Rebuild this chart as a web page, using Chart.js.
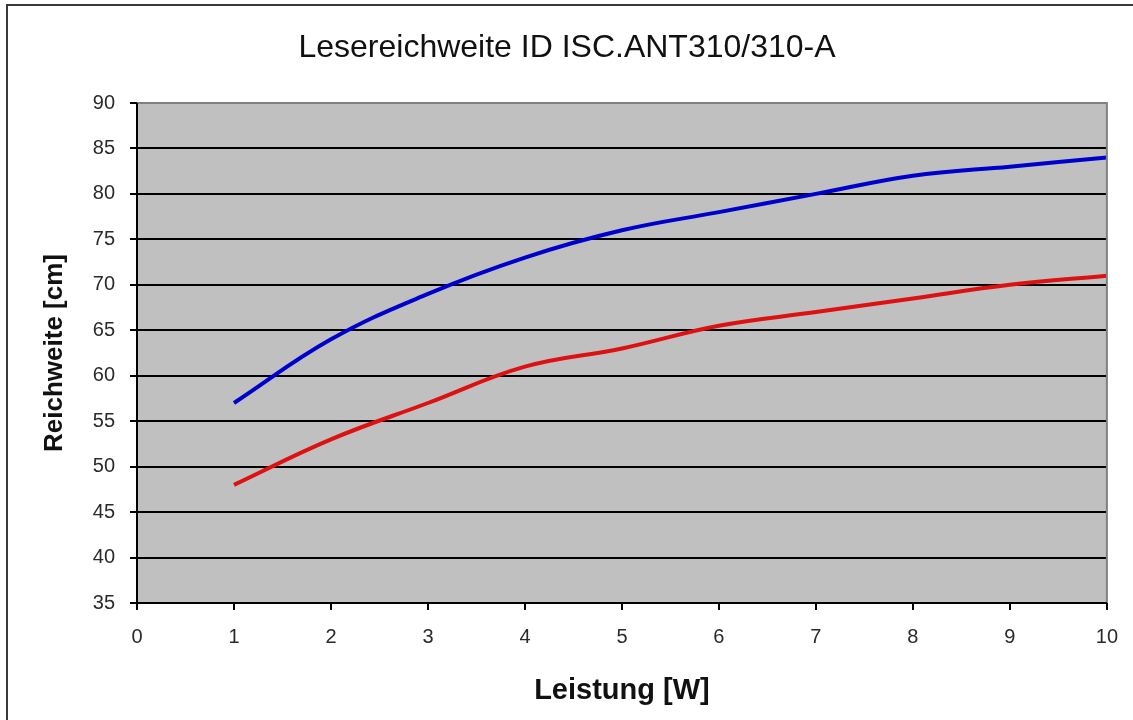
<!DOCTYPE html>
<html>
<head>
<meta charset="utf-8">
<script src="https://cdn.jsdelivr.net/npm/chart.js@4.4.1/dist/chart.umd.min.js"></script>
<style>
  html, body { margin: 0; padding: 0; background: #ffffff; }
  #wrap { width: 1133px; height: 720px; position: relative; }
</style>
</head>
<body>
<div id="wrap"><canvas id="c" width="1133" height="720"></canvas></div>
<script>
// Leistung in W
const leistung = [1, 2, 3, 4, 5, 6, 7, 8, 9, 10];
// Reichweite in cm
const reichweiteBlau = [57, 64, 69, 73, 76, 78, 80, 82, 83, 84];
const reichweiteRot  = [48, 53, 57, 61, 63, 65.5, 67, 68.5, 70, 71];

const titel = 'Lesereichweite ID ISC.ANT310/310-A';
const xTitel = 'Leistung [W]';
const yTitel = 'Reichweite [cm]';

const toPoints = (xs, ys) => xs.map((x, i) => ({ x: x, y: ys[i] }));

// grey plot background, frame lines and the outer chart border
const frame = {
  id: 'frame',
  beforeDraw(chart) {
    const { ctx, chartArea: a } = chart;
    ctx.save();
    ctx.fillStyle = '#ffffff';
    ctx.fillRect(0, 0, chart.width, chart.height);
    ctx.strokeStyle = '#3a3a3a';
    ctx.lineWidth = 2;
    ctx.strokeRect(7, 5, chart.width + 20, chart.height + 20);
    ctx.fillStyle = '#c0c0c0';
    ctx.fillRect(a.left, a.top, a.right - a.left, a.bottom - a.top);
    ctx.restore();
  },
  afterDatasetsDraw(chart) {
    const { ctx, chartArea: a } = chart;
    ctx.save();
    ctx.strokeStyle = '#808080';
    ctx.lineWidth = 2;
    ctx.beginPath();
    ctx.moveTo(a.left, a.top);
    ctx.lineTo(a.right, a.top);
    ctx.lineTo(a.right, a.bottom);
    ctx.stroke();
    ctx.strokeStyle = '#000000';
    ctx.beginPath();
    ctx.moveTo(a.left, a.top);
    ctx.lineTo(a.left, a.bottom);
    ctx.lineTo(a.right, a.bottom);
    ctx.stroke();
    ctx.restore();
  }
};

const fam = 'Liberation Sans, Arial, sans-serif';
const tickFont = { family: fam, size: 20 };

new Chart(document.getElementById('c'), {
  type: 'line',
  data: {
    datasets: [
      {
        label: 'Reichweite 1',
        data: toPoints(leistung, reichweiteBlau),
        borderColor: '#0000cc',
        borderWidth: 4,
        pointRadius: 0,
        tension: 0.4,
        fill: false
      },
      {
        label: 'Reichweite 2',
        data: toPoints(leistung, reichweiteRot),
        borderColor: '#dd1111',
        borderWidth: 4,
        pointRadius: 0,
        tension: 0.4,
        fill: false
      }
    ]
  },
  options: {
    responsive: false,
    animation: false,
    devicePixelRatio: 1,
    layout: { padding: { left: 27, right: 26, top: 0, bottom: 0 } },
    plugins: {
      legend: { display: false },
      tooltip: { enabled: false },
      title: {
        display: true,
        text: titel,
        color: '#111111',
        font: { family: fam, size: 32, weight: 'normal' },
        padding: { top: 29, bottom: 35.6 }
      }
    },
    scales: {
      x: {
        type: 'linear',
        min: 0,
        max: 10,
        ticks: { stepSize: 1, color: '#2a2a2a', font: tickFont, padding: 15, maxRotation: 0 },
        grid: { display: true, drawOnChartArea: false, drawTicks: true, tickLength: 7, color: '#000000', lineWidth: 2 },
        border: { display: false },
        title: { display: true, text: xTitel, color: '#111111', font: { family: fam, size: 29, weight: 'bold' }, padding: { top: 0, bottom: 11.6 } },
        afterFit(scale) { scale.height = 117; }
      },
      y: {
        type: 'linear',
        min: 35,
        max: 90,
        ticks: { stepSize: 5, color: '#2a2a2a', font: tickFont, padding: 15 },
        grid: { display: true, drawOnChartArea: true, drawTicks: true, tickLength: 7, color: '#000000', lineWidth: 2 },
        border: { display: false },
        title: { display: true, text: yTitel, color: '#111111', font: { family: fam, size: 26, weight: 'bold' }, padding: { top: 12.4, bottom: 0 } },
        afterFit(scale) { scale.width = 110; }
      }
    }
  },
  plugins: [frame]
});
</script>
</body>
</html>
